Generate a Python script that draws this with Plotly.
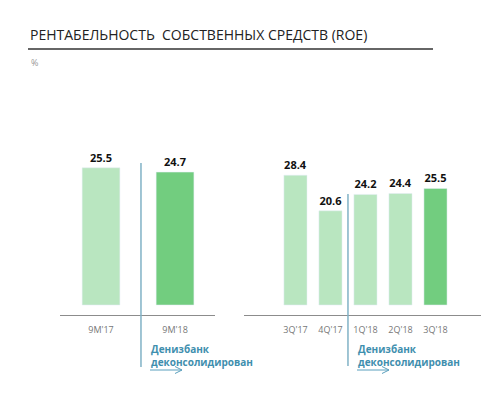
import plotly.graph_objects as go

title_text = "РЕНТАБЕЛЬНОСТЬ  СОБСТВЕННЫХ СРЕДСТВ (ROE)"
unit_text = "%"
note_text = "Денизбанк<br>деконсолидирован"

left_cats = ["9M'17", "9M'18"]
left_vals = [25.5, 24.7]
right_cats = ["3Q'17", "4Q'17", "1Q'18", "2Q'18", "3Q'18"]
right_vals = [28.4, 20.6, 24.2, 24.4, 25.5]

LIGHT = "#b9e6c0"
DARK = "#72cd7f"
left_colors = [LIGHT, DARK]
right_colors = [LIGHT, LIGHT, LIGHT, LIGHT, DARK]

OFF = 8  # default page body margin
W, H = 499 - OFF, 393 - OFF
def px(x):
    return (x - OFF) / W
def py(y):
    return 1 - (y - OFF) / H

fig = go.Figure()
label_font = dict(family="Open Sans, DejaVu Sans", size=11, color="#111111")
fig.add_trace(go.Bar(x=left_cats, y=left_vals, marker_color=left_colors, width=0.51,
                     text=[f"<b>{v}</b>" for v in left_vals], textposition="outside",
                     textfont=label_font, cliponaxis=False, xaxis="x", yaxis="y",
                     hoverinfo="skip"))
fig.add_trace(go.Bar(x=right_cats, y=right_vals, marker_color=right_colors, width=0.66,
                     text=[f"<b>{v}</b>" for v in right_vals], textposition="outside",
                     textfont=label_font, cliponaxis=False, xaxis="x2", yaxis="y2",
                     hoverinfo="skip"))

tick_font = dict(family="Open Sans, DejaVu Sans", size=9, color="#777777")
ydom = [py(315), py(140)]
common_x = dict(showline=True, linecolor="#8c8c8c", linewidth=1.2, showgrid=False,
                zeroline=False, ticks="outside", ticklen=6, tickcolor="rgba(0,0,0,0)",
                tickfont=tick_font, fixedrange=True)
common_y = dict(visible=False, showgrid=False, zeroline=False, fixedrange=True)

fig.update_layout(
    width=W, height=H, margin=dict(l=0, r=0, t=0, b=0),
    paper_bgcolor="white", plot_bgcolor="white", showlegend=False,
    font=dict(family="Open Sans, DejaVu Sans"),
    xaxis=dict(domain=[px(60), px(215)], range=[-0.554, 1.54], anchor="y", **common_x),
    yaxis=dict(domain=ydom, range=[-1.86, 30.67], anchor="x", **common_y),
    xaxis2=dict(domain=[px(244), px(481)], range=[-1.47, 5.3], anchor="y2", **common_x),
    yaxis2=dict(domain=ydom, range=[-2.19, 36.1], anchor="x2", **common_y),
)

# Title and underline
fig.add_annotation(text=title_text, x=px(28), y=py(34), xref="paper", yref="paper",
                   xanchor="left", yanchor="middle", showarrow=False,
                   font=dict(family="Open Sans, DejaVu Sans", size=14, color="#222222"))
fig.add_shape(type="line", xref="paper", yref="paper", x0=px(28), x1=px(433),
              y0=py(49), y1=py(49), line=dict(color="#666666", width=2))
fig.add_annotation(text=unit_text, x=px(29), y=py(62), xref="paper", yref="paper",
                   xanchor="left", yanchor="middle", showarrow=False,
                   font=dict(family="Open Sans, DejaVu Sans", size=9, color="#999999"))

VCOL = "#80b2c6"
NCOL = "#3f8fae"
# Vertical deconsolidation lines
fig.add_shape(type="line", xref="x", yref="paper", x0=0.54, x1=0.54,
              y0=py(367), y1=py(163), line=dict(color=VCOL, width=1.5))
fig.add_shape(type="line", xref="x2", yref="paper", x0=1.5, x1=1.5,
              y0=py(366), y1=py(194), line=dict(color=VCOL, width=1.5))

note_font = dict(family="Open Sans, DejaVu Sans", size=10, color=NCOL)
for xs in (150, 357):
    fig.add_annotation(text=f"<b>{note_text}</b>", x=px(xs - 1), y=py(355), xref="paper",
                       yref="paper", xanchor="left", yanchor="middle", align="left",
                       showarrow=False, font=note_font)
    # arrow
    x0, x1, ya = xs, xs + 32, 370
    fig.add_shape(type="path", xref="paper", yref="paper",
                  path=f"M {px(x0)},{py(ya)} L {px(x1)},{py(ya)} "
                       f"M {px(x1-7)},{py(ya-3.5)} L {px(x1)},{py(ya)} L {px(x1-7)},{py(ya+3.5)}",
                  line=dict(color="#5aa0bd", width=1))

fig.write_html("out.html")
